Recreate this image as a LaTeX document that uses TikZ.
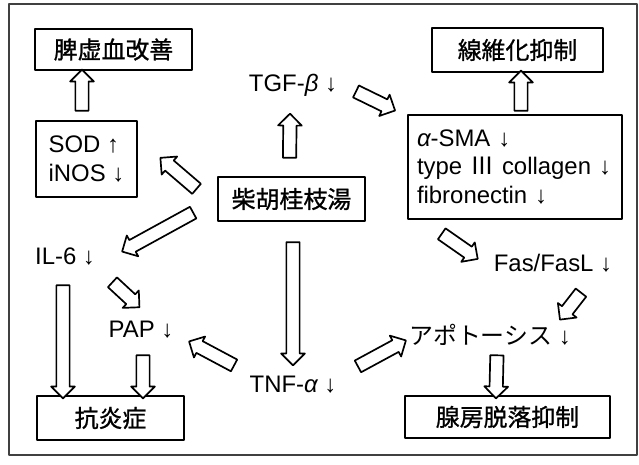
\documentclass[tikz,border=0pt]{standalone}
\usepackage{fontspec}
\setmainfont{Liberation Sans}
\newfontfamily\jp{Noto Sans CJK JP}
\newfontfamily\jpb{Noto Sans CJK JP}[FakeBold=1]
\usetikzlibrary{shapes.arrows,calc}

\tikzset{
  boite/.style={draw,line width=1.3pt,inner sep=0pt,font=\jpb\fontsize{17}{18}\selectfont},
  terme/.style={inner sep=0pt},
  bigarrow/.style={single arrow,draw,line width=1.2pt,fill=white,inner xsep=0pt,inner ysep=0.145cm,
    outer sep=0pt,minimum width=0pt,single arrow head extend=0.13cm,single arrow tip angle=90}
}
% fleche creuse entre deux points
\newcommand{\blockarrow}[2]{%
  \path let \p1=#1, \p2=#2, \n1={veclen(\x2-\x1,\y2-\y1)}, \n2={atan2(\y2-\y1,\x2-\x1)} in
    node[bigarrow,minimum height=\n1,rotate=\n2] at ($(\p1)!0.5!(\p2)$) {};}

\begin{document}
\begin{tikzpicture}[line cap=round,line join=round,x=0.025cm,y=-0.025cm,
  every node/.style={font=\fontsize{17}{18}\selectfont}]
		\useasboundingbox (0,0) rectangle (639,465);
		% cadre
		\draw[line width=0.8pt,black!75] (9,4) rectangle (637,455);
		% Haut
		\node[boite,minimum width=157*0.025cm,minimum height=41*0.025cm] (piki) at (113.5,49.5) {脾虚血改善};
		\node[boite,font=\fontsize{17}{20}\selectfont,minimum width=101*0.025cm,minimum height=76*0.025cm,align=left] (sod) at (86.5,159) {SOD ↑\\iNOS ↓};
		\node[terme] (tgf) at (293,85) {TGF-{\itshape β} ↓};
		\node[boite,minimum width=147*0.025cm,minimum height=44*0.025cm] (drug) at (291.5,199) {柴胡桂枝湯};
		\node[boite,minimum width=171*0.025cm,minimum height=44*0.025cm] (fib) at (517.5,50) {線維化抑制};
		\node[boite,font=\fontsize{17}{20.5}\selectfont,minimum width=214*0.025cm,minimum height=104*0.025cm,
		  align=left,text width=196*0.025cm] (sma) at (515,167) {{\itshape α}-SMA ↓\\type {\jp Ⅲ} collagen ↓\\fibronectin ↓};
		% Milieu
		\node[terme] (il6) at (65,257) {IL-6 ↓};
		\node[terme] (fas) at (553,263) {Fas/FasL ↓};
		\node[terme] (pap) at (141,330) {PAP ↓};
		\node[terme] (apo) at (490,335) {{\jp アポトーシス} ↓};
		\node[terme] (tnf) at (293,385) {TNF-{\itshape α} ↓};
		% Bas
		\node[boite,minimum width=147*0.025cm,minimum height=44*0.025cm] (enshou) at (110.5,418) {抗炎症};
		\node[boite,minimum width=205*0.025cm,minimum height=42*0.025cm] (senbo) at (507.5,417) {腺房脱落抑制};
		% fleches
		\blockarrow{([shift={(-4.5,-6)}]sod.north)}{([shift={(-31.5,2)}]piki.south)}
		\blockarrow{([shift={(-2,-15)}]drug.north)}{([shift={(-3,32)}]tgf.center)}
		\blockarrow{([shift={(60,5)}]tgf.center)}{([shift={(-15,-5)}]sma.north west)}
		\blockarrow{([shift={(6,0)}]sma.north)}{([shift={(3.5,1)}]fib.south)}
		\blockarrow{([shift={(-18,-8)}]drug.west)}{([shift={(25,1)}]sod.east)}
		\blockarrow{([shift={(-21,12)}]drug.west)}{([shift={(60,-7)}]il6.center)}
		\blockarrow{([shift={(-2,25)}]il6.center)}{([shift={(-47.5,0)}]enshou.north)}
		\blockarrow{([shift={(45,23)}]il6.center)}{([shift={(-4,-25)}]pap.center)}
		\blockarrow{([shift={(2,22)}]pap.center)}{([shift={(32.5,0)}]enshou.north)}
		\blockarrow{([shift={(1.5,17)}]drug.south)}{([shift={(0,-23)}]tnf.center)}
		\blockarrow{([shift={(-56,-18)}]tnf.center)}{([shift={(51,13)}]pap.center)}
		\blockarrow{([shift={(62,-17)}]tnf.center)}{([shift={(-87,7)}]apo.center)}
		\blockarrow{([shift={(7,17)}]apo.center)}{([shift={(-11.5,0)}]senbo.north)}
		\blockarrow{([shift={(-76,12)}]sma.south)}{([shift={(-78,-6)}]fas.center)}
		\blockarrow{([shift={(30,27)}]fas.center)}{([shift={(72,-18)}]apo.center)}
\end{tikzpicture}
\end{document}
